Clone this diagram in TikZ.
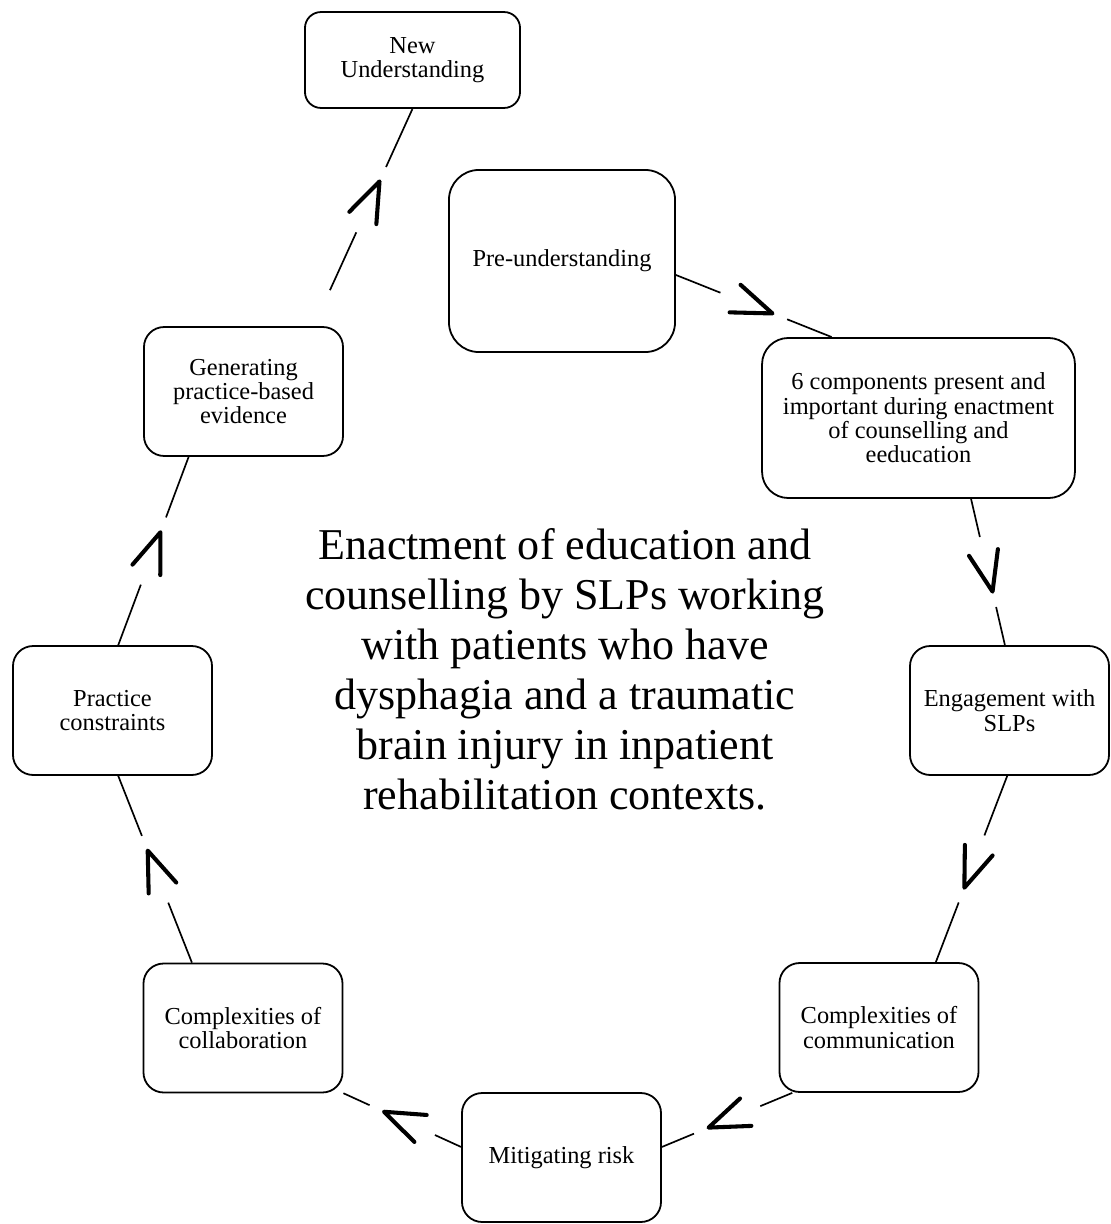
\documentclass[tikz,border=0pt]{standalone}
\usepackage{fontspec}
\setmainfont{Liberation Serif}
\usepackage{tikz}
\usetikzlibrary{calc,decorations.markings}

\tikzset{
  stage/.style={draw, line width=0.75pt, rounded corners=8.4pt, align=center, inner sep=2pt,
    font=\fontsize{10.2}{10.2}\selectfont, minimum width=83.2pt, minimum height=53.9pt},
  cyclink/.style={postaction={decorate}, decoration={markings, mark=at position .5 with {
      \draw[line width=0.7pt] (15pt,0) -- ({0.5*\pgfdecoratedpathlength},0);
      \draw[line width=0.7pt] (-15pt,0) -- ({-0.5*\pgfdecoratedpathlength},0);
      \draw[line width=1.7pt, line cap=round, line join=round] (-8.4pt,6.2pt) -- (8.4pt,0) -- (-8.4pt,-6.2pt);}}}
}

\begin{document}
\begin{tikzpicture}[x=0.418pt, y=0.418pt]
\useasboundingbox (0,0) rectangle (1111,-1224);

\node[stage, minimum width=89.9pt, minimum height=40.1pt, rounded corners=6.7pt] (new) at (412.5,-60) {New\\Understanding};
\node[stage, minimum width=94.5pt, minimum height=76.1pt, rounded corners=12.5pt] (pre) at (562,-261) {Pre-understanding};
\node[stage, minimum width=130.8pt, minimum height=66.9pt, rounded corners=11pt] (six) at (918.5,-418) {6 components present and\\important during enactment\\of counselling and\\eeducation};
\node[stage] (eng) at (1009.5,-710.5) {Engagement with\\SLPs};
\node[stage] (comm) at (879,-1027.5) {Complexities of\\communication};
\node[stage] (mit) at (561.5,-1157.5) {Mitigating risk};
\node[stage] (col) at (243,-1028) {Complexities of\\collaboration};
\node[stage] (pra) at (112.5,-710.5) {Practice\\constraints};
\node[stage] (gen) at (243.5,-391.5) {Generating\\practice-based\\evidence};

\node[font=\fontsize{18.4}{20.9}\selectfont, align=center] (title) at (565,-669) {Enactment of education and\\counselling by SLPs working\\with patients who have\\dysphagia and a traumatic\\brain injury in inpatient\\rehabilitation contexts.};

\coordinate (genout) at ($(gen.43)!16.5pt!(new.-90)$);

\path[cyclink] (pre.-7) -- (six.137);
\path[cyclink] (six.-57) -- (eng.94);
\path[cyclink] (eng.-92) -- (comm.49);
\path[cyclink] (comm.217) -- (mit.6);
\path[cyclink] (mit.174) -- (col.-33);
\path[cyclink] (col.128) -- (pra.-85);
\path[cyclink] (pra.85) -- (gen.230);
\path[cyclink] (genout) -- (new.-90);
\end{tikzpicture}
\end{document}
